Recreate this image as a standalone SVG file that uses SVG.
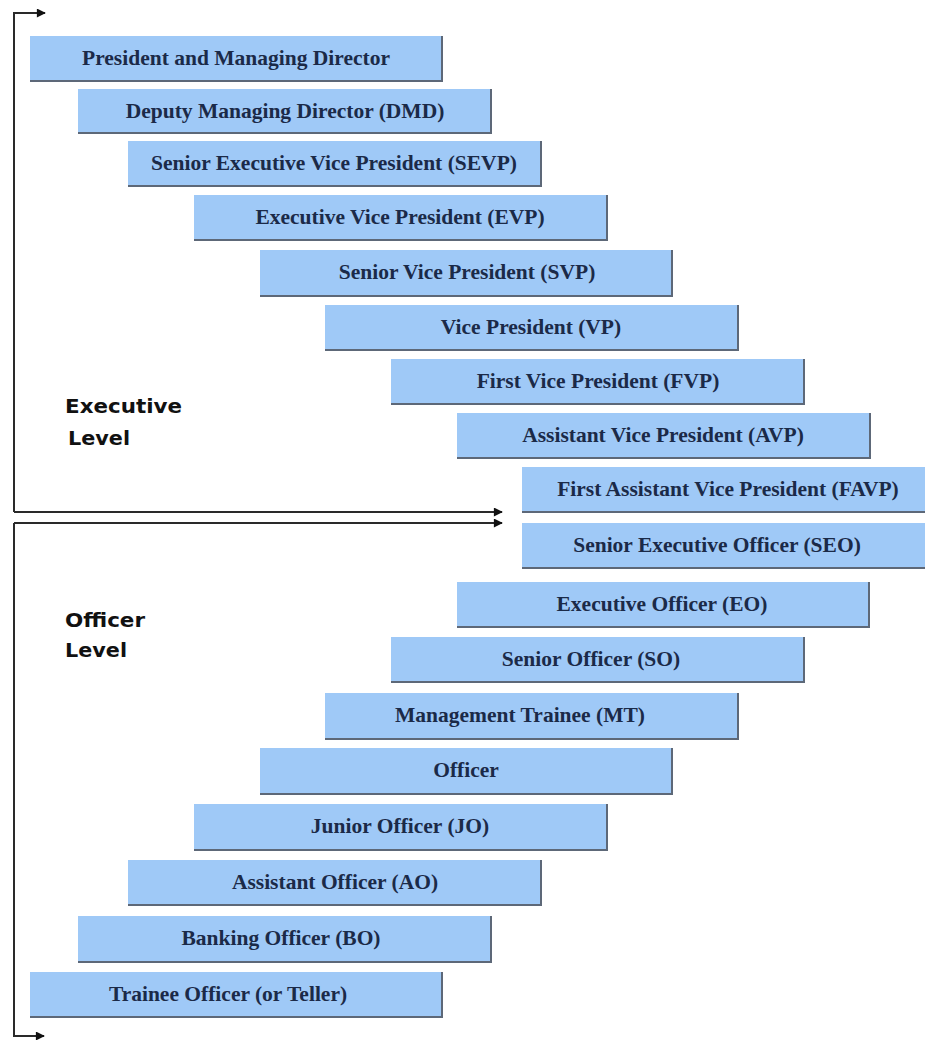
<svg xmlns="http://www.w3.org/2000/svg" width="925" height="1040" viewBox="0 0 925 1040">
  <defs>
    <style>
      .box { fill: #9fc9f7; }
      .edge { stroke: #5d6878; stroke-width: 2; fill: none; }
      .lbl { font-family: "Liberation Serif", "Times New Roman", serif; font-weight: bold; font-size: 21.5px; fill: #1b2a48; text-anchor: middle; }
      .lvl { font-family: "DejaVu Sans", Verdana, sans-serif; font-weight: bold; font-size: 19px; fill: #111; }
      .wire { stroke: #2a2a2a; stroke-width: 2; fill: none; }
    </style>
    <marker id="arrow" viewBox="0 0 10 10" refX="9" refY="5" markerWidth="5.5" markerHeight="4.5" orient="auto" markerUnits="strokeWidth">
      <path d="M0,0 L10,5 L0,10 Z" fill="#111"/>
    </marker>
  </defs>

  <rect width="925" height="1040" fill="#ffffff"/>

  <!-- connectors: level brackets -->
  <g id="connectors">
    <path class="wire" d="M14,512 V13 H45" marker-end="url(#arrow)"/>
    <path class="wire" d="M14,512 H502" marker-end="url(#arrow)"/>
    <path class="wire" d="M14,523 H502" marker-end="url(#arrow)"/>
    <path class="wire" d="M14,523 V1036 H44" marker-end="url(#arrow)"/>
  </g>

  <!-- level captions -->
  <g id="executive-level">
    <text class="lvl" x="65" y="413" textLength="117" lengthAdjust="spacingAndGlyphs">Executive</text>
    <text class="lvl" x="68" y="445" textLength="62" lengthAdjust="spacingAndGlyphs">Level</text>
  </g>
  <g id="officer-level">
    <text class="lvl" x="65" y="627" textLength="80" lengthAdjust="spacingAndGlyphs">Officer</text>
    <text class="lvl" x="65" y="657" textLength="62" lengthAdjust="spacingAndGlyphs">Level</text>
  </g>

  <!-- rank boxes, top to bottom -->
  <g id="pmd">
    <rect class="box" x="30" y="36" width="412" height="45"/>
    <path class="edge" d="M30,81 H442 V36"/>
    <text class="lbl" x="236" y="65">President and Managing Director</text>
  </g>
  <g id="dmd">
    <rect class="box" x="78" y="89" width="413" height="44"/>
    <path class="edge" d="M78,133 H491 V89"/>
    <text class="lbl" x="285" y="118">Deputy Managing Director (DMD)</text>
  </g>
  <g id="sevp">
    <rect class="box" x="128" y="141" width="413" height="45"/>
    <path class="edge" d="M128,186 H541 V141"/>
    <text class="lbl" x="334" y="170">Senior Executive Vice President (SEVP)</text>
  </g>
  <g id="evp">
    <rect class="box" x="194" y="195" width="413" height="45"/>
    <path class="edge" d="M194,240 H607 V195"/>
    <text class="lbl" x="400" y="224">Executive Vice President (EVP)</text>
  </g>
  <g id="svp">
    <rect class="box" x="260" y="250" width="412" height="46"/>
    <path class="edge" d="M260,296 H672 V250"/>
    <text class="lbl" x="467" y="279">Senior Vice President (SVP)</text>
  </g>
  <g id="vp">
    <rect class="box" x="325" y="305" width="413" height="45"/>
    <path class="edge" d="M325,350 H738 V305"/>
    <text class="lbl" x="531" y="334">Vice President (VP)</text>
  </g>
  <g id="fvp">
    <rect class="box" x="391" y="359" width="413" height="45"/>
    <path class="edge" d="M391,404 H804 V359"/>
    <text class="lbl" x="598" y="388">First Vice President (FVP)</text>
  </g>
  <g id="avp">
    <rect class="box" x="457" y="413" width="413" height="45"/>
    <path class="edge" d="M457,458 H870 V413"/>
    <text class="lbl" x="663" y="442">Assistant Vice President (AVP)</text>
  </g>
  <g id="favp">
    <rect class="box" x="522" y="467" width="413" height="45"/>
    <path class="edge" d="M522,512 H935"/>
    <text class="lbl" x="728" y="496">First Assistant Vice President (FAVP)</text>
  </g>
  <g id="seo">
    <rect class="box" x="522" y="523" width="413" height="45"/>
    <path class="edge" d="M522,568 H935"/>
    <text class="lbl" x="717" y="552">Senior Executive Officer (SEO)</text>
  </g>
  <g id="eo">
    <rect class="box" x="457" y="582" width="412" height="45"/>
    <path class="edge" d="M457,627 H869 V582"/>
    <text class="lbl" x="662" y="611">Executive Officer (EO)</text>
  </g>
  <g id="so">
    <rect class="box" x="391" y="637" width="413" height="45"/>
    <path class="edge" d="M391,682 H804 V637"/>
    <text class="lbl" x="591" y="666">Senior Officer (SO)</text>
  </g>
  <g id="mt">
    <rect class="box" x="325" y="693" width="413" height="46"/>
    <path class="edge" d="M325,739 H738 V693"/>
    <text class="lbl" x="520" y="722">Management Trainee (MT)</text>
  </g>
  <g id="officer">
    <rect class="box" x="260" y="748" width="412" height="46"/>
    <path class="edge" d="M260,794 H672 V748"/>
    <text class="lbl" x="466" y="777">Officer</text>
  </g>
  <g id="jo">
    <rect class="box" x="194" y="804" width="413" height="46"/>
    <path class="edge" d="M194,850 H607 V804"/>
    <text class="lbl" x="400" y="833">Junior Officer (JO)</text>
  </g>
  <g id="ao">
    <rect class="box" x="128" y="860" width="413" height="45"/>
    <path class="edge" d="M128,905 H541 V860"/>
    <text class="lbl" x="335" y="889">Assistant Officer (AO)</text>
  </g>
  <g id="bo">
    <rect class="box" x="78" y="916" width="413" height="46"/>
    <path class="edge" d="M78,962 H491 V916"/>
    <text class="lbl" x="281" y="945">Banking Officer (BO)</text>
  </g>
  <g id="trainee">
    <rect class="box" x="30" y="972" width="412" height="45"/>
    <path class="edge" d="M30,1017 H442 V972"/>
    <text class="lbl" x="228" y="1001">Trainee Officer (or Teller)</text>
  </g>
</svg>
